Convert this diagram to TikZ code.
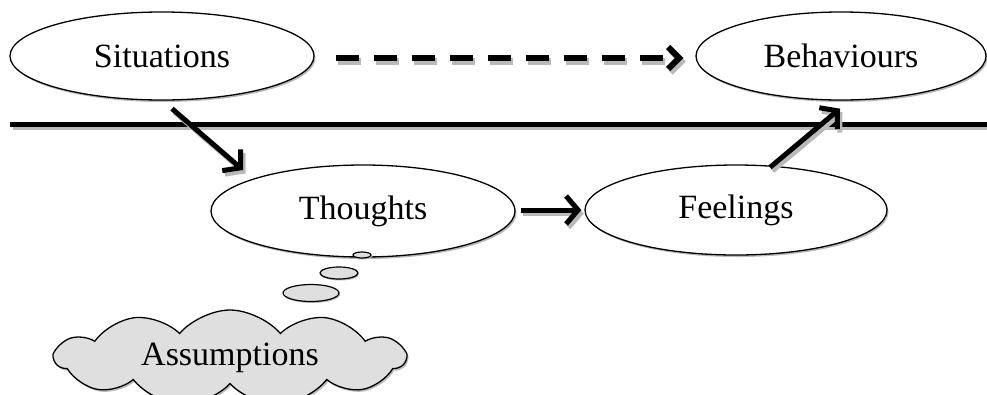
\documentclass[tikz,border=0pt]{standalone}
\usepackage{fontspec}
\setmainfont{Liberation Serif}
\usetikzlibrary{shapes.geometric,shapes.symbols,shadows,arrows.meta}
\tikzset{
  oval/.style={ellipse, draw=black, line width=1.3pt, fill=white, inner sep=0pt,
    drop shadow={shadow xshift=1.5pt, shadow yshift=-2pt, fill=gray!55, opacity=1},
    font=\fontsize{34}{40}\selectfont},
  bubble/.style={ellipse, draw=black, line width=1.2pt, fill=gray!25, inner sep=0pt,
    drop shadow={shadow xshift=1pt, shadow yshift=-1.5pt, fill=gray!55, opacity=1}},
  arr/.style={line width=5pt, -{Straight Barb[length=12pt, width=28pt, line width=5pt]}},
  dasharr/.style={line width=6.5pt, dash pattern=on 23pt off 15pt,
    -{Straight Barb[length=11pt, width=22pt, line width=6pt]}},
  shad/.style={draw=gray!55, transform canvas={shift={(2.5pt,-3.5pt)}}},
  rule/.style={line width=5pt}
}
\begin{document}
\begin{tikzpicture}[x=1pt,y=-1pt]
\useasboundingbox (0,0) rectangle (987,394);
% horizontal divider
\coordinate (hl1) at (10,124);
\coordinate (hl2) at (987,124);
\draw[rule,shad] (hl1) -- (hl2);
\draw[rule] (hl1) -- (hl2);
% ovals
\node[oval, minimum width=304pt, minimum height=88pt] (sit) at (162,56) {Situations};
\node[oval, minimum width=290pt, minimum height=88pt] (beh) at (841,56) {Behaviours};
\node[oval, minimum width=304pt, minimum height=92pt] (tho) at (363,211) {Thoughts};
\node[oval, minimum width=302pt, minimum height=90pt] (fee) at (736,210) {Feelings};
% thought bubbles
\node[bubble, minimum width=18pt, minimum height=6pt] (b1) at (362,255) {};
\node[bubble, minimum width=38pt, minimum height=12pt] (b2) at (339,273) {};
\node[bubble, minimum width=56pt, minimum height=17pt] (b3) at (311,293) {};
\node[cloud, cloud puffs=11, cloud puff arc=100, cloud ignores aspect, draw=black,
  line width=1.3pt, fill=gray!25, minimum width=350pt, minimum height=96pt, inner sep=0pt,
  drop shadow={shadow xshift=1.5pt, shadow yshift=-2pt, fill=gray!55, opacity=1},
  font=\fontsize{34}{40}\selectfont] (cl) at (230,358) {Assumptions};
% connectors
\draw[dasharr,shad] ([shift={(21,2)}]sit.east) -- ([shift={(-12,2)}]beh.west);
\draw[dasharr] ([shift={(21,2)}]sit.east) -- ([shift={(-12,2)}]beh.west);
\draw[arr,shad] ([shift={(10,8)}]sit.south) -- ([shift={(-120,-41)}]tho.center);
\draw[arr] ([shift={(10,8)}]sit.south) -- ([shift={(-120,-41)}]tho.center);
\draw[arr,shad] ([shift={(5,-1)}]tho.east) -- ([shift={(-3,0)}]fee.west);
\draw[arr] ([shift={(5,-1)}]tho.east) -- ([shift={(-3,0)}]fee.west);
\draw[arr,shad] ([shift={(34,3)}]fee.north) -- ([shift={(-1,8)}]beh.south);
\draw[arr] ([shift={(34,3)}]fee.north) -- ([shift={(-1,8)}]beh.south);
\end{tikzpicture}
\end{document}
